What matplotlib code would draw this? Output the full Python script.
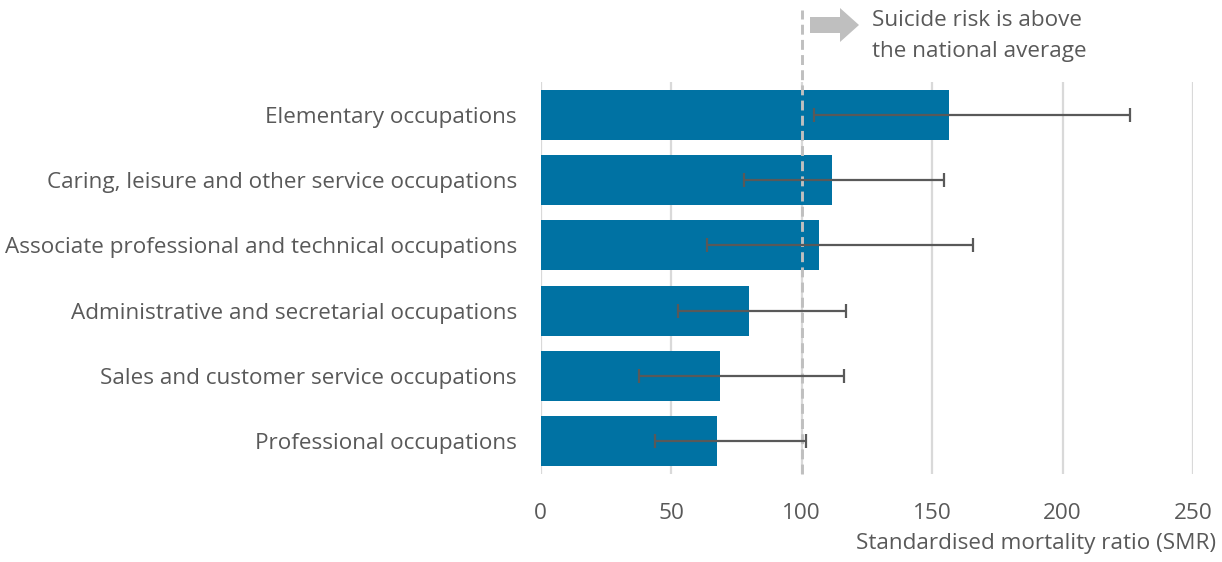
import matplotlib
matplotlib.use("Agg")
import matplotlib.pyplot as plt
from matplotlib.patches import Polygon
import numpy as np

plt.rcParams['font.family'] = ['Open Sans', 'DejaVu Sans']

categories = ["Elementary occupations",
              "Caring, leisure and other service occupations",
              "Associate professional and technical occupations",
              "Administrative and secretarial occupations",
              "Sales and customer service occupations",
              "Professional occupations"]
smr = [156.7, 111.8, 106.8, 80.0, 68.9, 67.7]
ci_low = [104.8, 77.9, 63.9, 52.6, 37.7, 43.9]
ci_high = [225.8, 154.7, 165.8, 117.0, 116.2, 101.8]
xticks = [0, 50, 100, 150, 200, 250]

W, H = 1222, 562
fig = plt.figure(figsize=(W/100, H/100), dpi=100)
left, right, top, bottom = 540.5, 1193, 82, 474
ax = fig.add_axes([left/W, 1-bottom/H, (right-left)/W, (bottom-top)/H])

TXT = '#595959'
FS = 16.2
y = np.arange(len(categories))
ax.barh(y, smr, height=0.77, color='#0072A3', zorder=2)
smr_a = np.array(smr)
err = [smr_a - np.array(ci_low), np.array(ci_high) - smr_a]
ax.errorbar(smr, y, xerr=err, fmt='none', ecolor=TXT, elinewidth=1.6,
            capsize=5, capthick=1.6, zorder=4)

ax.set_xlim(0, 250)
ax.set_ylim(len(categories)-0.5, -0.5)
ax.set_xticks(xticks)
ax.set_xticklabels([str(t) for t in xticks])
ax.set_yticks(y)
ax.set_yticklabels(categories)
ax.tick_params(axis='both', length=0, labelsize=FS, colors=TXT)
ax.tick_params(axis='y', pad=17)
ax.tick_params(axis='x', pad=21)
for s in ax.spines.values():
    s.set_visible(False)
ax.grid(axis='x', color='#d9d9d9', linewidth=1.6, zorder=0)
ax.set_axisbelow(True)

ax.axvline(100, ymin=0, ymax=(bottom-10)/(bottom-top), color='#bfbfbf',
           linewidth=2.1, dashes=(3.4, 1.8), clip_on=False, zorder=3)

# arrow
pts = [(810, 17), (840, 17), (840, 8), (859, 25), (840, 42), (840, 33), (810, 33)]
arrow = Polygon([(px/W, 1-py/H) for px, py in pts], closed=True,
                transform=fig.transFigure, facecolor='#bfbfbf', edgecolor='none')
fig.patches.append(arrow)
fig.text(872/W, 1-20/H, "Suicide risk is above", fontsize=FS, color=TXT,
         ha='left', va='center')
fig.text(872/W, 1-51/H, "the national average", fontsize=FS, color=TXT,
         ha='left', va='center')

fig.text(1216/W, 1-543/H, "Standardised mortality ratio (SMR)", fontsize=FS,
         color=TXT, ha='right', va='center')

fig.savefig("out.png", dpi=100)
